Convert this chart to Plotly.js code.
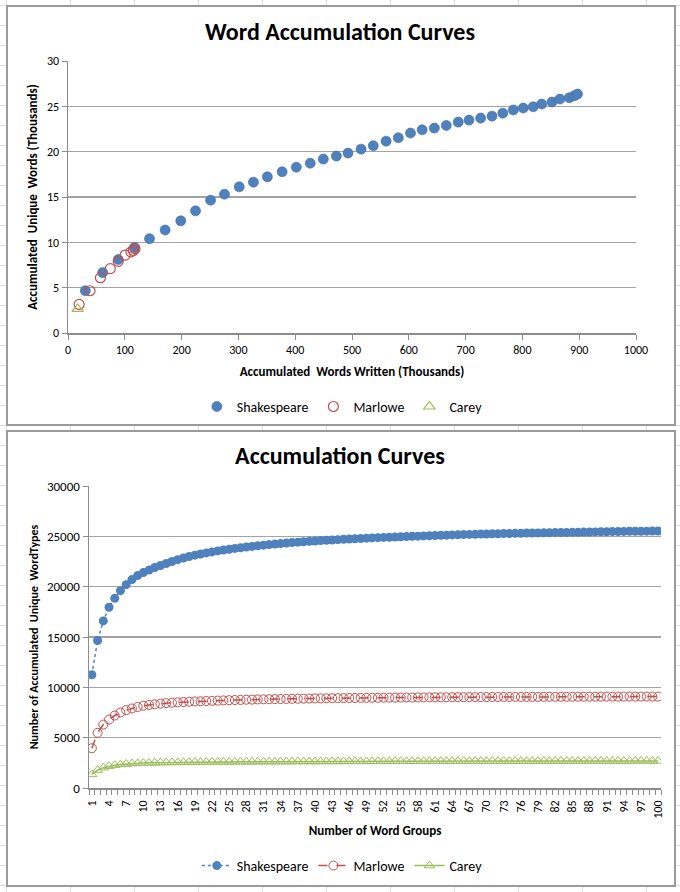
<!DOCTYPE html>
<html>
<head>
<meta charset="utf-8">
<script src="https://cdn.plot.ly/plotly-3.0.1.min.js"></script>
<style>
  html, body { margin: 0; padding: 0; }
  body {
    width: 680px; height: 892px; position: relative; overflow: hidden;
    background-color: #fff;
    background-image: linear-gradient(to right, #dcdcdc 1px, transparent 1px),
                      linear-gradient(to bottom, #dcdcdc 1px, transparent 1px);
    background-size: 64px 20px;
    background-position: 6px 5px;
  }
  .chart { position: absolute; left: 6px; width: 670px; box-sizing: border-box;
           border: 2px solid #9a9a9a; background: #fff; }
  #top { top: 5px; height: 421px; }
  #bottom { top: 430px; height: 457px; }
</style>
</head>
<body>
<div id="top" class="chart"></div>
<div id="bottom" class="chart"></div>
<script>
const FONT = 'Carlito, Lato, "DejaVu Sans", sans-serif';
const BLUE = '#4F81BD';
const RED = '#C0504D';
const GREEN = '#9BBB59';
const AXIS_GREY = '#8c8c8c';
const GRID_GREY = '#a3a3a3';

// top chart: words written vs unique words, both in thousands
const shakesWordsK = [30.5, 61, 88.5, 117, 143.5, 171, 198.5, 224.5, 251, 275.5,
  301.5, 326.5, 351, 377, 402, 426.5, 449.5, 472.5, 493, 516,
  537.5, 560, 581.5, 603, 623.5, 645, 666, 687, 706, 726.5,
  746.5, 765.5, 784, 801.5, 819, 834, 852, 866, 882.5, 891.5, 897];
const shakesUniqueK = [4.66, 6.66, 8.1, 9.42, 10.4, 11.36, 12.37, 13.47, 14.65, 15.31,
  16.12, 16.64, 17.22, 17.78, 18.29, 18.73, 19.18, 19.51, 19.84, 20.28,
  20.65, 21.16, 21.53, 22.05, 22.41, 22.6, 22.89, 23.26, 23.48, 23.7,
  23.92, 24.25, 24.59, 24.81, 24.95, 25.25, 25.47, 25.8, 25.95, 26.17, 26.35];

const marloweWordsK = [19.6, 38.7, 57.1, 74.4, 88.5, 100.6, 110.7, 115, 118];
const marloweUniqueK = [3.15, 4.66, 6.1, 7.1, 7.9, 8.6, 8.95, 9.1, 9.3];

const careyWordsK = [17];
const careyUniqueK = [2.65];

// bottom chart: accumulated word types per number of word groups
const wordGroups = [
  1, 2, 3, 4, 5, 6, 7, 8, 9, 10,
  11, 12, 13, 14, 15, 16, 17, 18, 19, 20,
  21, 22, 23, 24, 25, 26, 27, 28, 29, 30,
  31, 32, 33, 34, 35, 36, 37, 38, 39, 40,
  41, 42, 43, 44, 45, 46, 47, 48, 49, 50,
  51, 52, 53, 54, 55, 56, 57, 58, 59, 60,
  61, 62, 63, 64, 65, 66, 67, 68, 69, 70,
  71, 72, 73, 74, 75, 76, 77, 78, 79, 80,
  81, 82, 83, 84, 85, 86, 87, 88, 89, 90,
  91, 92, 93, 94, 95, 96, 97, 98, 99, 100];

const groupTickLabels = [1, 4, 7, 10, 13, 16, 19, 22, 25, 28, 31, 34, 37, 40, 43, 46, 49,
  52, 55, 58, 61, 64, 67, 70, 73, 76, 79, 82, 85, 88, 91, 94, 97, 100];

const shakesTypes = [
  11250, 14650, 16600, 17950, 18850, 19600, 20200, 20700, 21100, 21400,
  21650, 21900, 22100, 22300, 22500, 22680, 22850, 23000, 23130, 23250,
  23350, 23450, 23550, 23640, 23720, 23800, 23870, 23940, 24000, 24060,
  24120, 24180, 24230, 24280, 24330, 24380, 24420, 24460, 24500, 24540,
  24580, 24610, 24640, 24670, 24700, 24730, 24760, 24790, 24820, 24840,
  24870, 24890, 24910, 24930, 24960, 24980, 25000, 25020, 25040, 25060,
  25080, 25100, 25120, 25140, 25150, 25170, 25190, 25200, 25220, 25230,
  25250, 25260, 25270, 25280, 25300, 25310, 25320, 25330, 25340, 25350,
  25360, 25370, 25380, 25390, 25400, 25410, 25420, 25430, 25440, 25450,
  25460, 25470, 25480, 25490, 25500, 25505, 25510, 25515, 25520, 25525];

const marloweTypes = [
  3950, 5480, 6300, 6800, 7200, 7500, 7730, 7900, 8050, 8170,
  8250, 8320, 8380, 8430, 8470, 8510, 8540, 8570, 8600, 8620,
  8640, 8660, 8680, 8700, 8720, 8740, 8750, 8770, 8780, 8800,
  8810, 8820, 8830, 8840, 8850, 8860, 8870, 8880, 8890, 8900,
  8905, 8910, 8920, 8925, 8930, 8940, 8945, 8950, 8955, 8960,
  8965, 8970, 8975, 8980, 8985, 8990, 8990, 8995, 9000, 9005,
  9010, 9010, 9015, 9020, 9020, 9025, 9030, 9030, 9035, 9035,
  9040, 9040, 9045, 9045, 9050, 9050, 9050, 9055, 9055, 9060,
  9060, 9060, 9065, 9065, 9065, 9070, 9070, 9070, 9070, 9075,
  9075, 9075, 9075, 9080, 9080, 9080, 9080, 9080, 9080, 9080];

const careyTypes = [
  1350, 1780, 2020, 2170, 2270, 2340, 2390, 2430, 2460, 2480,
  2500, 2510, 2520, 2530, 2540, 2550, 2560, 2565, 2570, 2575,
  2580, 2585, 2590, 2595, 2600, 2600, 2605, 2605, 2610, 2610,
  2615, 2615, 2620, 2620, 2625, 2625, 2630, 2630, 2630, 2635,
  2635, 2635, 2640, 2640, 2640, 2645, 2645, 2645, 2650, 2650,
  2650, 2650, 2655, 2655, 2655, 2655, 2660, 2660, 2660, 2660,
  2660, 2665, 2665, 2665, 2665, 2665, 2670, 2670, 2670, 2670,
  2670, 2670, 2675, 2675, 2675, 2675, 2675, 2675, 2675, 2680,
  2680, 2680, 2680, 2680, 2680, 2680, 2680, 2685, 2685, 2685,
  2685, 2685, 2685, 2685, 2685, 2690, 2690, 2690, 2690, 2690];

function axisBase() {
  return {
    showline: true, linecolor: AXIS_GREY, linewidth: 1.5,
    ticks: 'outside', ticklen: 5, tickcolor: AXIS_GREY, tickwidth: 1,
    zeroline: false, automargin: false,
    tickfont: {size: 12, color: '#000'}
  };
}

function drawTop() {
  let data = [
    {type: 'scatter', mode: 'markers', name: 'Shakespeare', x: shakesWordsK, y: shakesUniqueK,
      marker: {symbol: 'circle', size: 10, color: BLUE, line: {color: '#3d6ca6', width: 0.6}}},
    {type: 'scatter', mode: 'markers', name: 'Marlowe', x: marloweWordsK, y: marloweUniqueK,
      marker: {symbol: 'circle-open', size: 10, color: RED, line: {width: 1.2}}},
    {type: 'scatter', mode: 'markers', name: 'Carey', x: careyWordsK, y: careyUniqueK,
      marker: {symbol: 'triangle-up-open', size: 10, color: GREEN, line: {width: 1.2}}}
  ];

  let xaxis = Object.assign(axisBase(), {
    range: [0, 1000], tick0: 0, dtick: 100, showgrid: false,
    title: {text: '<b>Accumulated  Words Written (Thousands)</b>', font: {size: 13}, standoff: 11}
  });
  let yaxis = Object.assign(axisBase(), {
    range: [0, 30], tick0: 0, dtick: 5,
    showgrid: true, gridcolor: GRID_GREY, gridwidth: 1.3,
    title: {text: '<b>Accumulated  Unique  Words (Thousands)</b>', font: {size: 13}, standoff: 6}
  });

  let layout = {
    width: 666, height: 417,
    margin: {l: 60, r: 38, t: 54, b: 91},
    paper_bgcolor: '#fff', plot_bgcolor: '#fff',
    font: {family: FONT, size: 12, color: '#000'},
    title: {text: '<b>Word Accumulation Curves</b>', font: {size: 24},
      xref: 'container', x: 0.4985, xanchor: 'center',
      yref: 'container', y: 0.942, yanchor: 'middle'},
    xaxis: xaxis,
    yaxis: yaxis,
    showlegend: true,
    legend: {orientation: 'h', xref: 'container', yref: 'container',
      x: 0.502, xanchor: 'center', y: 0.041, yanchor: 'middle',
      font: {size: 14}, bgcolor: 'rgba(0,0,0,0)', itemwidth: 30}
  };

  Plotly.newPlot('top', data, layout, {staticPlot: true});
}

function drawBottom() {
  let data = [
    {type: 'scatter', mode: 'lines+markers', name: 'Shakespeare', x: wordGroups, y: shakesTypes,
      line: {color: BLUE, width: 1.5, dash: 'dot'},
      marker: {symbol: 'circle', size: 9, color: BLUE}},
    {type: 'scatter', mode: 'lines+markers', name: 'Marlowe', x: wordGroups, y: marloweTypes,
      line: {color: RED, width: 1.5, dash: 'dash'},
      marker: {symbol: 'circle-open', size: 9, color: RED, line: {width: 1}}},
    {type: 'scatter', mode: 'lines+markers', name: 'Carey', x: wordGroups, y: careyTypes,
      line: {color: GREEN, width: 1.5},
      marker: {symbol: 'triangle-up-open', size: 9, color: GREEN, line: {width: 1}}}
  ];

  let xaxis = Object.assign(axisBase(), {
    range: [0.5, 100.5], showgrid: false,
    tickmode: 'array', tickvals: groupTickLabels, ticktext: groupTickLabels.map(String),
    tickangle: -90, ticks: '', ticklabelstandoff: 6,
    tickfont: {size: 12, color: '#000'},
    minor: {tick0: 0.5, dtick: 1, ticks: 'outside', ticklen: 5, tickcolor: AXIS_GREY, showgrid: false},
    title: {text: '<b>Number of Word Groups</b>', font: {size: 13}, standoff: 8}
  });
  let yaxis = Object.assign(axisBase(), {
    range: [0, 30000], tick0: 0, dtick: 5000, tickformat: 'd',
    showgrid: true, gridcolor: GRID_GREY, gridwidth: 1.3,
    tickfont: {size: 13, color: '#000'},
    title: {text: '<b>Number of Accumulated  Unique  WordTypes</b>', font: {size: 12}, standoff: 5}
  });

  let layout = {
    width: 666, height: 453,
    margin: {l: 81, r: 13, t: 54, b: 97},
    paper_bgcolor: '#fff', plot_bgcolor: '#fff',
    font: {family: FONT, size: 12, color: '#000'},
    title: {text: '<b>Accumulation Curves</b>', font: {size: 24},
      xref: 'container', x: 0.4985, xanchor: 'center',
      yref: 'container', y: 0.947, yanchor: 'middle'},
    xaxis: xaxis,
    yaxis: yaxis,
    showlegend: true,
    legend: {orientation: 'h', xref: 'container', yref: 'container',
      x: 0.502, xanchor: 'center', y: 0.042, yanchor: 'middle',
      font: {size: 14}, bgcolor: 'rgba(0,0,0,0)'}
  };

  Plotly.newPlot('bottom', data, layout, {staticPlot: true});
}

drawTop();
drawBottom();
</script>
</body>
</html>
